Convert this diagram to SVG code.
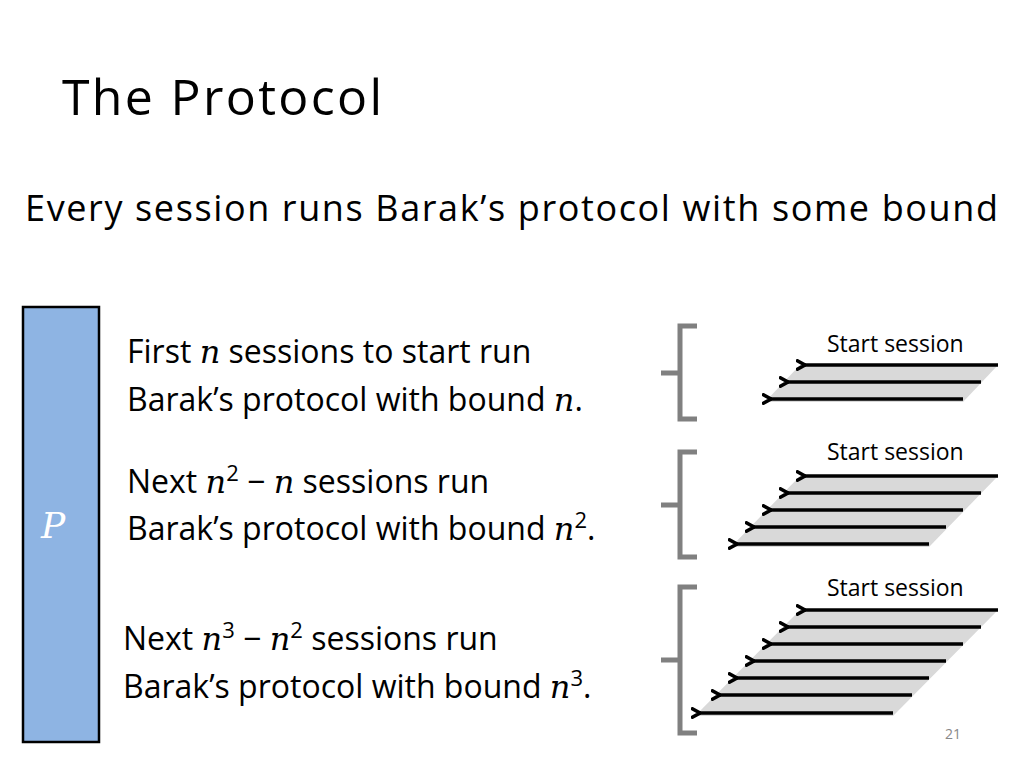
<svg xmlns="http://www.w3.org/2000/svg" width="1024" height="768" viewBox="0 0 1024 768">
<defs>
<style>
.t{font-family:"Open Sans","Liberation Sans",sans-serif;fill:#000}
.m{font-family:"DejaVu Serif","Liberation Serif",serif;font-style:italic}
.br{fill:none;stroke:#808080;stroke-width:5}
.ar{stroke:#000;stroke-width:3.5;fill:none}
.sh{fill:#d9d9d9}
.lb{font-family:"Open Sans","Liberation Sans",sans-serif;font-size:23px;fill:#000}
</style>
<marker id="ah" markerWidth="10" markerHeight="12" refX="1" refY="6" orient="auto" markerUnits="userSpaceOnUse"><path d="M10,1 L1,6 L10,11" fill="none" stroke="#000" stroke-width="3.5"/></marker>
</defs>
<rect width="1024" height="768" fill="#fff"/>
<text class="t" x="62" y="115" font-size="50" textLength="320">The Protocol</text>
<text class="t" x="25" y="221" font-size="36" textLength="973">Every session runs Barak’s protocol with some bound</text>
<g id="P"><rect x="23" y="307" width="76" height="435" fill="#8eb4e3" stroke="#000" stroke-width="2.5"/>
<text x="53" y="538" text-anchor="middle" font-size="36" fill="#fff" class="m">P</text></g>
<g id="text1" class="t" font-size="32">
<text x="127" y="363">First <tspan class="m">n</tspan> sessions to start run</text>
<text x="127" y="411">Barak’s protocol with bound <tspan class="m">n</tspan>.</text></g>
<g id="text2" class="t" font-size="32">
<text x="127" y="493">Next <tspan class="m">n</tspan><tspan font-size="22" dy="-12">2</tspan><tspan dy="12"> − </tspan><tspan class="m">n</tspan>  sessions run</text>
<text x="127" y="540">Barak’s protocol with bound <tspan class="m">n</tspan><tspan font-size="22" dy="-12">2</tspan><tspan dy="12">.</tspan></text></g>
<g id="text3" class="t" font-size="32">
<text x="123" y="650">Next <tspan class="m">n</tspan><tspan font-size="22" dy="-12">3</tspan><tspan dy="12"> − </tspan><tspan class="m">n</tspan><tspan font-size="22" dy="-12">2</tspan><tspan dy="12">  sessions run</tspan></text>
<text x="123" y="698">Barak’s protocol with bound <tspan class="m">n</tspan><tspan font-size="22" dy="-12">3</tspan><tspan dy="12">.</tspan></text></g>
<g id="group1">
<path class="br" d="M697,326 H680 V419 H697 M661,373 H680"/>
<polygon class="sh" points="800,365 998,365 963,402 765,402"/>
<text class="lb" x="827" y="352">Start session</text>
</g>
<g id="group2">
<path class="br" d="M697,452 H680 V557 H697 M661,505 H680"/>
<polygon class="sh" points="800,476 998,476 929,547 731,547"/>
<text class="lb" x="827" y="460">Start session</text>
</g>
<g id="group3">
<path class="br" d="M697,587 H680 V733 H697 M661,660 H680"/>
<polygon class="sh" points="800,610 998,610 893,716 695,716"/>
<text class="lb" x="827" y="596">Start session</text>
</g>
<g id="connectors" marker-end="url(#ah)">
<line class="ar" x1="998" y1="365" x2="805" y2="365" marker-end="url(#ah)"/>
<line class="ar" x1="981" y1="382" x2="788" y2="382" marker-end="url(#ah)"/>
<line class="ar" x1="963" y1="399" x2="771" y2="399" marker-end="url(#ah)"/>
<line class="ar" x1="998" y1="476" x2="805" y2="476" marker-end="url(#ah)"/>
<line class="ar" x1="981" y1="493" x2="788" y2="493" marker-end="url(#ah)"/>
<line class="ar" x1="963" y1="510" x2="771" y2="510" marker-end="url(#ah)"/>
<line class="ar" x1="946" y1="527" x2="754" y2="527" marker-end="url(#ah)"/>
<line class="ar" x1="929" y1="544" x2="737" y2="544" marker-end="url(#ah)"/>
<line class="ar" x1="998" y1="610" x2="805" y2="610" marker-end="url(#ah)"/>
<line class="ar" x1="981" y1="627" x2="788" y2="627" marker-end="url(#ah)"/>
<line class="ar" x1="963" y1="644" x2="771" y2="644" marker-end="url(#ah)"/>
<line class="ar" x1="946" y1="661" x2="754" y2="661" marker-end="url(#ah)"/>
<line class="ar" x1="929" y1="678" x2="737" y2="678" marker-end="url(#ah)"/>
<line class="ar" x1="912" y1="695" x2="720" y2="695" marker-end="url(#ah)"/>
<line class="ar" x1="893" y1="713" x2="700" y2="713" marker-end="url(#ah)"/>
</g>
<text x="953" y="739" text-anchor="middle" font-family="Open Sans,Liberation Sans,sans-serif" font-size="14" fill="#888">21</text>
</svg>
